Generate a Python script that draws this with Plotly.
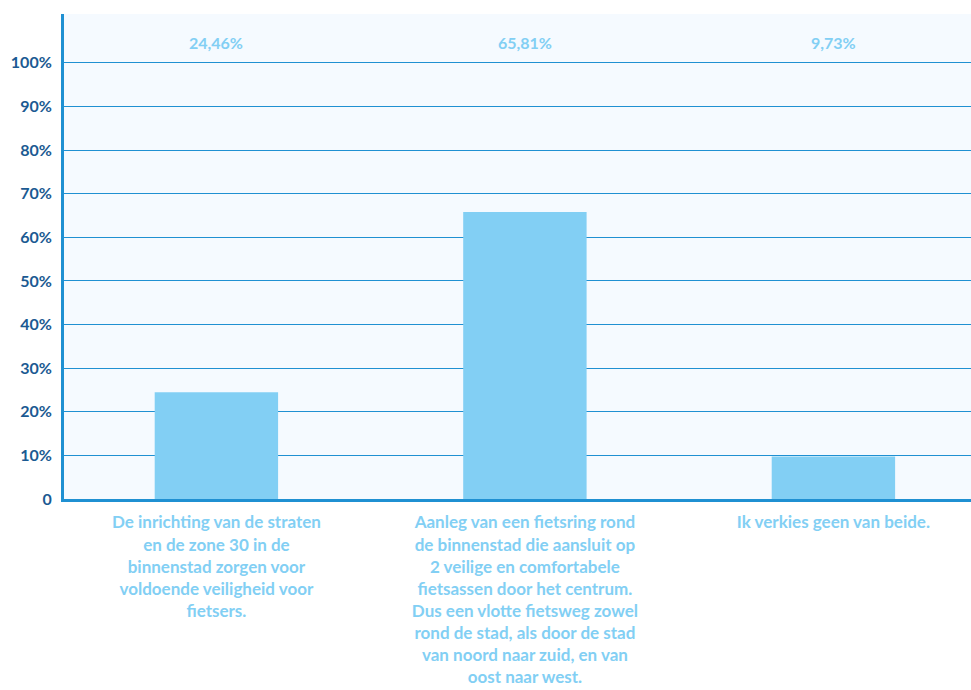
import plotly.graph_objects as go

categories = [
    "De inrichting van de straten<br>en de zone 30 in de<br>binnenstad zorgen voor<br>voldoende veiligheid voor<br>fietsers.",
    "Aanleg van een fietsring rond<br>de binnenstad die aansluit op<br>2 veilige en comfortabele<br>fietsassen door het centrum.<br>Dus een vlotte fietsweg zowel<br>rond de stad, als door de stad<br>van noord naar zuid, en van<br>oost naar west.",
    "Ik verkies geen van beide.",
]
values = [24.46, 65.81, 9.73]
value_labels = ["24,46%", "65,81%", "9,73%"]
y_ticks = [0, 10, 20, 30, 40, 50, 60, 70, 80, 90, 100]
y_tick_labels = ["0", "10%", "20%", "30%", "40%", "50%", "60%", "70%", "80%", "90%", "100%"]

BAR = "#82cff4"
DARK = "#1b5a92"
LINE = "#1f90d2"
FONT = "Lato"

x_pos = list(range(len(categories)))

fig = go.Figure(
    go.Bar(
        x=x_pos,
        y=values,
        width=0.4,
        marker=dict(color=BAR, line=dict(width=0)),
        hoverinfo="skip",
    )
)

for x, lab in zip(x_pos, value_labels):
    fig.add_annotation(
        x=x, y=104.6, xref="x", yref="y", text=lab, showarrow=False,
        font=dict(family=FONT, size=16, color=BAR, weight="bold"),
    )

fig.update_layout(
    width=971,
    height=690,
    margin=dict(l=64, r=0, t=14, b=191),
    paper_bgcolor="white",
    plot_bgcolor="#f5faff",
    showlegend=False,
    xaxis=dict(
        range=[-0.494, 2.446],
        tickvals=x_pos,
        ticktext=categories,
        tickfont=dict(family=FONT, size=17, color=BAR, weight="bold"),
        showgrid=False,
        showline=True,
        linecolor=LINE,
        linewidth=3,
        ticks="",
        ticklabelstandoff=6,
    ),
    yaxis=dict(
        range=[0, 111.2],
        tickvals=y_ticks,
        ticktext=y_tick_labels,
        tickfont=dict(family=FONT, size=16, color=DARK, weight="bold"),
        showgrid=True,
        gridcolor=LINE,
        gridwidth=1,
        zeroline=False,
        showline=True,
        linecolor=LINE,
        linewidth=3,
        ticks="",
        ticklabelstandoff=6,
    ),
)

fig.write_html("out.html")
